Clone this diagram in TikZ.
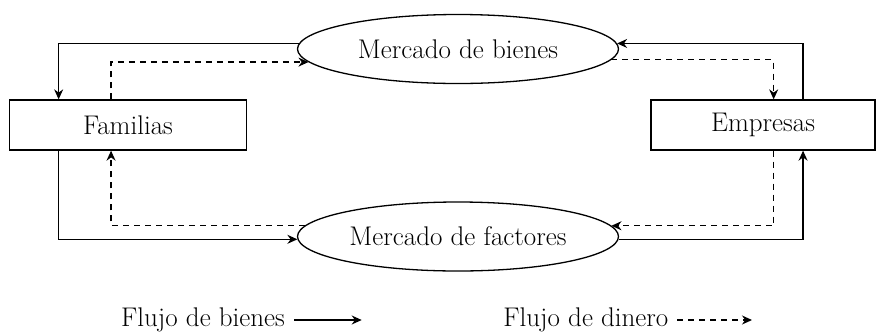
\documentclass[tikz,border=0pt]{standalone}
\usetikzlibrary{arrows.meta,shapes.geometric}
\begin{document}
\begin{tikzpicture}[x=1pt,y=-1pt,
  every node/.style={font=\fontsize{27}{32}\selectfont},
  box/.style={draw, line width=1.3pt, rectangle, inner sep=0pt},
  mkt/.style={draw, ellipse, line width=1.3pt, minimum width=321pt, minimum height=69pt, inner sep=0pt},
  flow/.style={line width=1.3pt, -{Stealth[length=10pt,width=9pt]}},
  money/.style={flow, dash pattern=on 6pt off 5pt}]
\useasboundingbox (0,0) rectangle (876,333);
\node[box, minimum width=237.4pt, minimum height=50pt] (fam) at (128,125) {Familias};
\node[box, minimum width=224pt, minimum height=50pt] (emp) at (763,125) {Empresas};
\node[mkt] (eb) at (458,49) {Mercado de bienes};
\node[mkt] (ef) at (458,236.5) {Mercado de factores};
% top
\draw[flow] (eb.178.45) -| ([xshift=50pt]fam.north west);
\draw[money] ([xshift=102.4pt]fam.north west) |- (eb.185.6);
\draw[flow] ([xshift=152.7pt]emp.north west) |- (eb.2.29);
\draw[money] (eb.-4.43) -| ([xshift=123.3pt]emp.north west);
% bottom
\draw[flow] ([xshift=50pt]fam.south west) |- (ef.181.26);
\draw[money] (ef.176.07) -| ([xshift=102.4pt]fam.south west);
\draw[flow] (ef.-1.26) -| ([xshift=152.7pt]emp.south west);
\draw[money] ([xshift=123.3pt]emp.south west) |- (ef.4.05);
% legend
\node[anchor=base, inner sep=0pt] (lb) at (203,326.5) {Flujo de bienes};
\coordinate (lbe) at (361.7,320);
\draw[flow] (lb.east |- lbe) ++(9,0) -- (lbe);
\node[anchor=base, inner sep=0pt] (ld) at (585.9,326.5) {Flujo de dinero};
\coordinate (lde) at (752,320);
\draw[money] (ld.east |- lde) ++(8.7,0) -- (lde);
\end{tikzpicture}
\end{document}
